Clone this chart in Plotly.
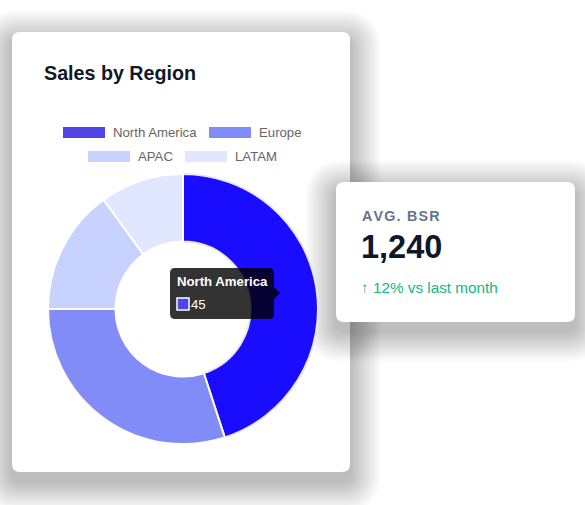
import plotly.graph_objects as go

W, H = 585, 505

# ---- data ----
regions = ["North America", "Europe", "APAC", "LATAM"]
sales = [45, 30, 15, 10]
legend_colors = ["#4f46e5", "#818cf8", "#c7d2fe", "#e0e7ff"]
slice_colors = ["#1a0dff", "#818cf8", "#c7d2fe", "#e0e7ff"]  # first slice shown in hover state
card_title = "Sales by Region"
kpi_label = "AVG. BSR"
kpi_value = "1,240"
kpi_change = "↑ 12% vs last month"

FONT = "Liberation Sans, Arial, Helvetica, sans-serif"


def px(x):
    return x / W


def py(y):
    return 1 - y / H


def rrect(x0, y0, x1, y1, r):
    # rounded rectangle path in paper coords from pixel coords
    p = [
        f"M{px(x0 + r)},{py(y0)}",
        f"L{px(x1 - r)},{py(y0)}",
        f"Q{px(x1)},{py(y0)} {px(x1)},{py(y0 + r)}",
        f"L{px(x1)},{py(y1 - r)}",
        f"Q{px(x1)},{py(y1)} {px(x1 - r)},{py(y1)}",
        f"L{px(x0 + r)},{py(y1)}",
        f"Q{px(x0)},{py(y1)} {px(x0)},{py(y1 - r)}",
        f"L{px(x0)},{py(y0 + r)}",
        f"Q{px(x0)},{py(y0)} {px(x0 + r)},{py(y0)}",
        "Z",
    ]
    return " ".join(p)


shapes = []


def card(x0, y0, x1, y1, r=8):
    # soft shadow
    n = 22
    for i in range(n, 0, -1):
        s = i * 1.4
        shapes.append(dict(
            type="path", xref="paper", yref="paper", layer="below",
            path=rrect(x0 - s, y0 - s + 9, x1 + s, y1 + s + 9, r + s),
            fillcolor="rgba(0,0,0,0.011)", line=dict(width=0),
        ))
    shapes.append(dict(
        type="path", xref="paper", yref="paper", layer="below",
        path=rrect(x0, y0, x1, y1, r),
        fillcolor="white", line=dict(width=0),
    ))


card(12, 32, 350, 472)
card(336, 182, 575, 322)

annotations = []

# title
annotations.append(dict(
    x=px(42), y=py(73), xref="paper", yref="paper", xanchor="left", yanchor="middle",
    text=f"<b>{card_title}</b>", showarrow=False,
    font=dict(family=FONT, size=19.7, color="#111827"),
))

# custom legend (Chart.js style)
leg_boxes = [(63, 127), (209, 127), (88, 151), (185, 151)]
for (bx, by), lab, col in zip(leg_boxes, regions, legend_colors):
    shapes.append(dict(
        type="rect", xref="paper", yref="paper", layer="above",
        x0=px(bx), x1=px(bx + 42), y0=py(by), y1=py(by + 11),
        fillcolor=col, line=dict(width=0),
    ))
    annotations.append(dict(
        x=px(bx + 48), y=py(by + 5.5), xref="paper", yref="paper",
        xanchor="left", yanchor="middle", text=lab, showarrow=False,
        font=dict(family=FONT, size=13.2, color="#666666"),
    ))

# tooltip
tx0, ty0, tx1, ty1 = 170, 268, 274, 319
shapes.append(dict(
    type="path", xref="paper", yref="paper", layer="above",
    path=rrect(tx0, ty0, tx1, ty1, 5),
    fillcolor="rgba(0,0,0,0.8)", line=dict(width=0),
))
shapes.append(dict(
    type="path", xref="paper", yref="paper", layer="above",
    path=f"M{px(tx1)},{py(287)} L{px(tx1 + 6)},{py(293)} L{px(tx1)},{py(299)} Z",
    fillcolor="rgba(0,0,0,0.8)", line=dict(width=0),
))
shapes.append(dict(
    type="rect", xref="paper", yref="paper", layer="above",
    x0=px(177), x1=px(189), y0=py(298), y1=py(310),
    fillcolor=legend_colors[0], line=dict(width=1.5, color="white"),
))
annotations.append(dict(
    x=px(175), y=py(281), xref="paper", yref="paper", xanchor="left", yanchor="middle",
    text=f"<b>{regions[0]}</b>", showarrow=False,
    font=dict(family=FONT, size=13.2, color="white"),
))
annotations.append(dict(
    x=px(189), y=py(304), xref="paper", yref="paper", xanchor="left", yanchor="middle",
    text=str(sales[0]), showarrow=False,
    font=dict(family=FONT, size=13.2, color="white"),
))

# KPI card text
spaced = "\u200a".join(list(kpi_label))
annotations.append(dict(
    x=px(360), y=py(216), xref="paper", yref="paper", xanchor="left", yanchor="middle",
    text=f"<b>{spaced}</b>", showarrow=False,
    font=dict(family=FONT, size=14.3, color="#64748b"),
))
annotations.append(dict(
    x=px(359), y=py(247), xref="paper", yref="paper", xanchor="left", yanchor="middle",
    text=f"<b>{kpi_value}</b>", showarrow=False,
    font=dict(family=FONT, size=32.5, color="#0f172a"),
))
annotations.append(dict(
    x=px(359), y=py(287), xref="paper", yref="paper", xanchor="left", yanchor="middle",
    text=kpi_change, showarrow=False,
    font=dict(family=FONT, size=15.3, color="#10b981"),
))

cx, cy, R = 183, 309, 135
fig = go.Figure(go.Pie(
    labels=regions, values=sales, hole=0.5, sort=False, direction="clockwise",
    rotation=0, textinfo="none", hoverinfo="label+value",
    marker=dict(colors=slice_colors,
                line=dict(color=["#e8e8ee", "white", "white", "white"], width=2)),
    domain=dict(x=[px(cx - R), px(cx + R)], y=[py(cy + R), py(cy - R)]),
    showlegend=False,
))

fig.update_layout(
    width=W, height=H, margin=dict(l=0, r=0, t=0, b=0),
    paper_bgcolor="white", plot_bgcolor="white",
    shapes=shapes, annotations=annotations, showlegend=False,
)

fig.write_html("out.html")
